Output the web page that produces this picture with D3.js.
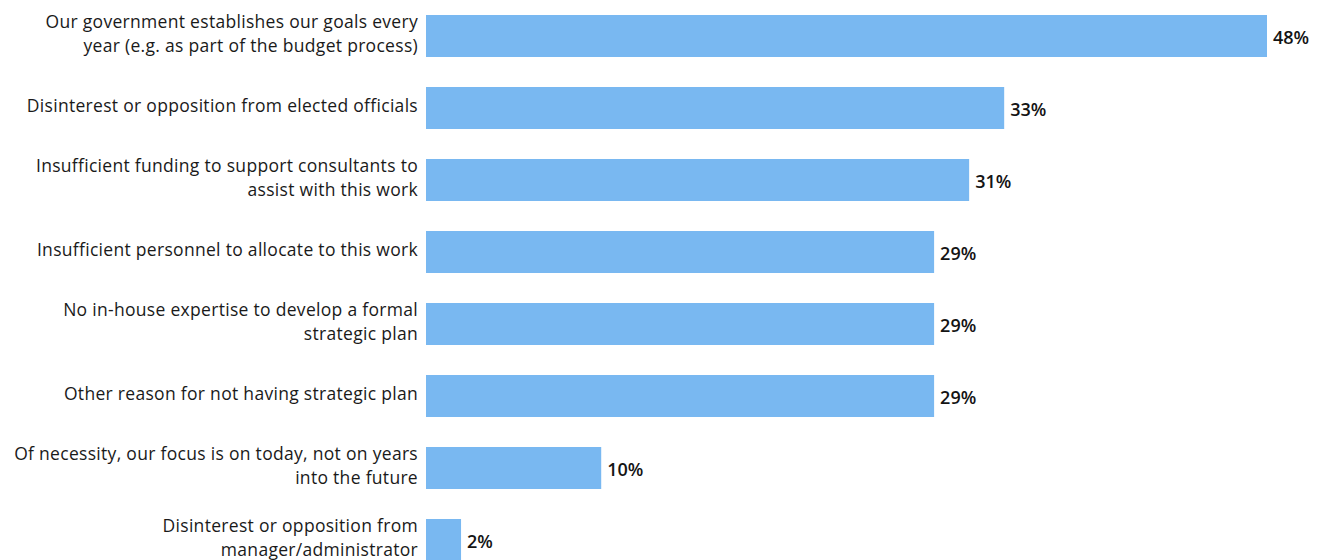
<!DOCTYPE html>
<html>
<head>
<meta charset="utf-8">
<script src="https://cdn.jsdelivr.net/npm/d3@7"></script>
<style>
  html, body { margin: 0; padding: 0; background: #ffffff; }
  svg { display: block; }
</style>
</head>
<body>
<svg id="chart" width="1324" height="560"></svg>
<script>
// Reasons given for not having a formal strategic plan
const categories = [
  ["Our government establishes our goals every", "year (e.g. as part of the budget process)"],
  ["Disinterest or opposition from elected officials"],
  ["Insufficient funding to support consultants to", "assist with this work"],
  ["Insufficient personnel to allocate to this work"],
  ["No in-house expertise to develop a formal", "strategic plan"],
  ["Other reason for not having strategic plan"],
  ["Of necessity, our focus is on today, not on years", "into the future"],
  ["Disinterest or opposition from", "manager/administrator"]
];
const values = [48, 33, 31, 29, 29, 29, 10, 2];
const valueLabels = ["48%", "33%", "31%", "29%", "29%", "29%", "10%", "2%"];

const svg = d3.select("#chart");
const font = "'Open Sans', 'Noto Sans', sans-serif";

const keys = categories.map((c, i) => i);
const y = d3.scaleBand().domain(keys).range([15, 561]).paddingInner(30 / 72).paddingOuter(0);
const x = d3.scaleLinear().domain([0, 48]).range([426, 1267]);

// bars
svg.selectAll("rect.bar")
  .data(values)
  .join("rect")
  .attr("class", "bar")
  .attr("x", x(0))
  .attr("y", (d, i) => y(i))
  .attr("width", d => x(d) - x(0))
  .attr("height", y.bandwidth())
  .attr("fill", "#79b8f1");

// value labels
svg.selectAll("text.value")
  .data(values)
  .join("text")
  .attr("class", "value")
  .attr("x", d => x(d) + 6)
  .attr("y", (d, i) => y(i) + y.bandwidth() / 2 + 8)
  .attr("font-family", font)
  .attr("font-size", 18)
  .attr("font-weight", 600)
  .attr("fill", "#141414")
  .text((d, i) => valueLabels[i]);

// category labels, right aligned against the bars
const lineH = 24;
const cat = svg.selectAll("text.cat")
  .data(categories)
  .join("text")
  .attr("class", "cat")
  .attr("text-anchor", "end")
  .attr("font-family", font)
  .attr("font-size", 17.5)
  .attr("letter-spacing", 0.3)
  .attr("fill", "#1a1a1a");

cat.each(function(lines, i) {
  const base = y(i) + y.bandwidth() / 2 + 4;
  const first = base - (lines.length - 1) * lineH / 2;
  d3.select(this).selectAll("tspan")
    .data(lines)
    .join("tspan")
    .attr("x", 418)
    .attr("y", (d, j) => first + j * lineH)
    .text(d => d);
});
</script>
</body>
</html>
